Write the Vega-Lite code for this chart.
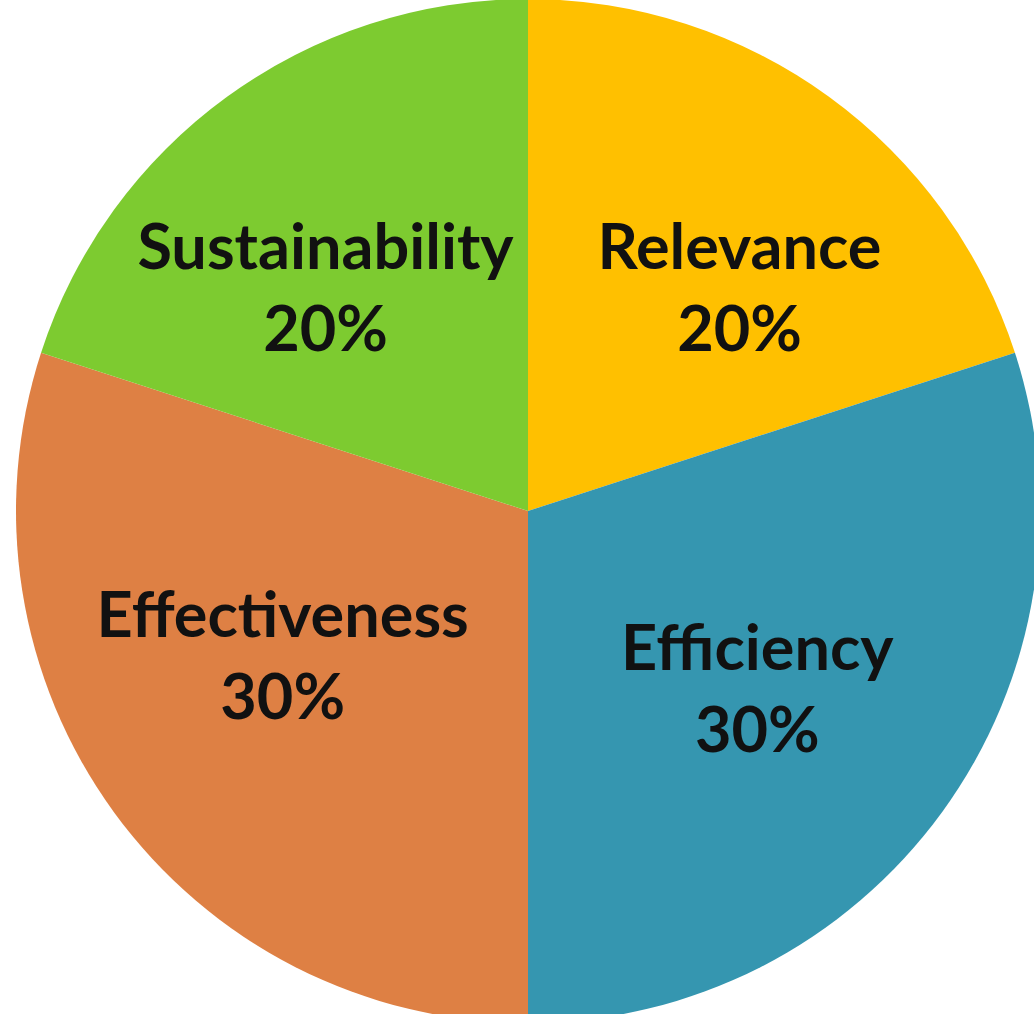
{
  "$schema": "https://vega.github.io/schema/vega-lite/v6.json",
  "width": 1034,
  "height": 1014,
  "autosize": {"type": "fit", "contains": "padding"},
  "padding": {"left": 22, "right": 0, "top": 8, "bottom": 0},
  "background": "white",
  "view": {"stroke": null},
  "data": {
    "values": [
      {"category": "Relevance", "share": 0.2, "seq": 1},
      {"category": "Efficiency", "share": 0.3, "seq": 2},
      {"category": "Effectiveness", "share": 0.3, "seq": 3},
      {"category": "Sustainability", "share": 0.2, "seq": 4}
    ]
  },
  "encoding": {
    "theta": {"field": "share", "type": "quantitative", "stack": true},
    "order": {"field": "seq", "type": "quantitative"}
  },
  "layer": [
    {
      "mark": {"type": "arc", "outerRadius": 512, "stroke": null},
      "encoding": {
        "color": {
          "field": "category",
          "type": "nominal",
          "scale": {
            "domain": ["Relevance", "Efficiency", "Effectiveness", "Sustainability"],
            "range": ["#FFC000", "#3596B0", "#DE8044", "#7DCB30"]
          },
          "legend": null
        }
      }
    },
    {
      "mark": {"type": "text", "radius": 302, "dx": 34, "dy": -17, "font": "Lato", "fontWeight": "bold", "fontSize": 63, "color": "#111111", "align": "center", "baseline": "middle"},
      "encoding": {"text": {"field": "category", "type": "nominal"}, "opacity": {"condition": {"test": "datum.category === 'Relevance'", "value": 1}, "value": 0}}
    },
    {
      "mark": {"type": "text", "radius": 302, "dx": 34, "dy": 65, "font": "Lato", "fontWeight": "bold", "fontSize": 63, "color": "#111111", "align": "center", "baseline": "middle"},
      "encoding": {"text": {"field": "share", "type": "quantitative", "format": ".0%"}, "opacity": {"condition": {"test": "datum.category === 'Relevance'", "value": 1}, "value": 0}}
    },
    {
      "mark": {"type": "text", "radius": 302, "dx": -15, "dy": -38, "font": "Lato", "fontWeight": "bold", "fontSize": 63, "color": "#111111", "align": "center", "baseline": "middle"},
      "encoding": {"text": {"field": "category", "type": "nominal"}, "opacity": {"condition": {"test": "datum.category === 'Efficiency'", "value": 1}, "value": 0}}
    },
    {
      "mark": {"type": "text", "radius": 302, "dx": -15, "dy": 44, "font": "Lato", "fontWeight": "bold", "fontSize": 63, "color": "#111111", "align": "center", "baseline": "middle"},
      "encoding": {"text": {"field": "share", "type": "quantitative", "format": ".0%"}, "opacity": {"condition": {"test": "datum.category === 'Efficiency'", "value": 1}, "value": 0}}
    },
    {
      "mark": {"type": "text", "radius": 302, "dx": -1, "dy": -71, "font": "Lato", "fontWeight": "bold", "fontSize": 63, "color": "#111111", "align": "center", "baseline": "middle"},
      "encoding": {"text": {"field": "category", "type": "nominal"}, "opacity": {"condition": {"test": "datum.category === 'Effectiveness'", "value": 1}, "value": 0}}
    },
    {
      "mark": {"type": "text", "radius": 302, "dx": -1, "dy": 11, "font": "Lato", "fontWeight": "bold", "fontSize": 63, "color": "#111111", "align": "center", "baseline": "middle"},
      "encoding": {"text": {"field": "share", "type": "quantitative", "format": ".0%"}, "opacity": {"condition": {"test": "datum.category === 'Effectiveness'", "value": 1}, "value": 0}}
    },
    {
      "mark": {"type": "text", "radius": 302, "dx": -25, "dy": -17, "font": "Lato", "fontWeight": "bold", "fontSize": 63, "color": "#111111", "align": "center", "baseline": "middle"},
      "encoding": {"text": {"field": "category", "type": "nominal"}, "opacity": {"condition": {"test": "datum.category === 'Sustainability'", "value": 1}, "value": 0}}
    },
    {
      "mark": {"type": "text", "radius": 302, "dx": -25, "dy": 65, "font": "Lato", "fontWeight": "bold", "fontSize": 63, "color": "#111111", "align": "center", "baseline": "middle"},
      "encoding": {"text": {"field": "share", "type": "quantitative", "format": ".0%"}, "opacity": {"condition": {"test": "datum.category === 'Sustainability'", "value": 1}, "value": 0}}
    }
  ]
}
